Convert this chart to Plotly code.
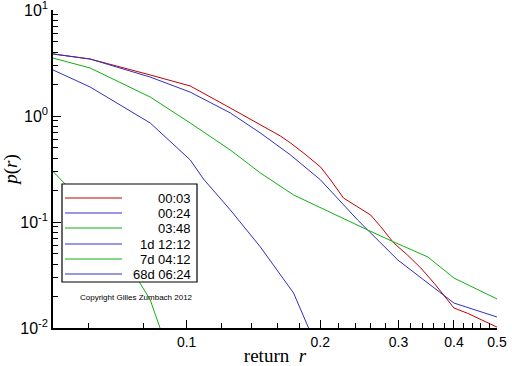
import plotly.graph_objects as go

# ---- data ----
labels = ["00:03", "00:24", "03:48", "1d 12:12", "7d 04:12", "68d 06:24"]
colors = ["#c00000", "#3030c0", "#10b010", "#3030c0", "#10b010", "#3030c0"]

x_0003 = [0.05, 0.0606, 0.0828, 0.1019, 0.1254, 0.1466, 0.1626, 0.1714, 0.1837, 0.2003, 0.2110,
          0.2257, 0.2424, 0.2597, 0.2736, 0.2927, 0.3142, 0.3368, 0.3611, 0.3767, 0.40, 0.4294, 0.50]
y_0003 = [3.85, 3.45, 2.44, 1.92, 1.19, 0.822, 0.648, 0.556, 0.445, 0.330, 0.249,
          0.168, 0.1395, 0.1164, 0.0903, 0.0634, 0.0489, 0.0368, 0.0264, 0.0212, 0.01545, 0.01375, 0.0102]

x_0024 = [0.05, 0.0606, 0.0828, 0.1019, 0.1254, 0.1466, 0.1714, 0.2003, 0.2427, 0.2990, 0.342, 0.40, 0.50]
y_0024 = [3.85, 3.45, 2.33, 1.68, 1.07, 0.691, 0.429, 0.249, 0.1045, 0.0438, 0.0284, 0.0172, 0.0127]

x_0348 = [0.05, 0.0606, 0.0828, 0.1019, 0.1254, 0.1466, 0.1741, 0.2003, 0.2557, 0.2927, 0.3493, 0.40, 0.50]
y_0348 = [3.52, 2.84, 1.51, 0.859, 0.478, 0.290, 0.180, 0.1355, 0.0841, 0.0648, 0.0468, 0.0296, 0.0188]

x_1d = [0.05, 0.0606, 0.0828, 0.1019, 0.1091, 0.1254, 0.1466, 0.1741, 0.1882]
y_1d = [2.72, 1.88, 0.859, 0.385, 0.2545, 0.130, 0.0581, 0.0214, 0.0100]

x_7d = [0.05, 0.0615, 0.0683, 0.0758, 0.0828, 0.0871]
y_7d = [0.30, 0.1216, 0.0648, 0.0337, 0.0184, 0.0100]

x_68d = []
y_68d = []

xs = [x_0003, x_0024, x_0348, x_1d, x_7d, x_68d]
ys = [y_0003, y_0024, y_0348, y_1d, y_7d, y_68d]

x_major = [0.1, 0.2, 0.3, 0.4, 0.5]
x_major_text = ["0.1", "0.2", "0.3", "0.4", "0.5"]
x_minor = [0.06, 0.08, 0.12, 0.14, 0.16, 0.18, 0.22, 0.24, 0.26, 0.28,
           0.32, 0.34, 0.36, 0.38, 0.42, 0.44, 0.46, 0.48]
y_major = [0.01, 0.1, 1, 10]
y_major_text = ["10<sup>-2</sup>", "10<sup>-1</sup>", "10<sup>0</sup>", "10<sup>1</sup>"]
y_minor = [m * d for d in (0.01, 0.1, 1) for m in range(2, 10)]

fig = go.Figure()
for xv, yv, lab, col in zip(xs, ys, labels, colors):
    fig.add_trace(go.Scatter(x=xv, y=yv, mode="lines", name=lab,
                             line=dict(color=col, width=1), showlegend=False))

W, H = 512, 366
L, R, T, B = 53, 497, 10, 328   # plot area in window pixels
def px(x):
    return (x - L) / (R - L)
def py(y):
    return (B - y) / (B - T)

shapes = [dict(type="rect", xref="paper", yref="paper", x0=px(62), x1=px(197),
               y0=py(282), y1=py(184), line=dict(color="black", width=1.2),
               fillcolor="white", layer="above")]
annotations = []
row_y = [198, 213, 228, 244, 259, 274]
for lab, col, ry in zip(labels, colors, row_y):
    shapes.append(dict(type="line", xref="paper", yref="paper", x0=px(65), x1=px(122),
                       y0=py(ry), y1=py(ry), line=dict(color=col, width=1), layer="above"))
    annotations.append(dict(xref="paper", yref="paper", x=px(193), y=py(ry), text=lab,
                            showarrow=False, xanchor="right", yanchor="middle",
                            font=dict(family="Liberation Sans", size=13, color="black")))
annotations.append(dict(xref="paper", yref="paper", x=px(78), y=py(297),
                        text="Copyright Gilles Zumbach 2012", showarrow=False,
                        xanchor="left", yanchor="middle",
                        font=dict(family="Liberation Sans", size=8, color="black")))

fig.update_layout(
    width=W, height=H,
    margin=dict(l=L, r=W - R, t=T, b=H - B, autoexpand=False),
    paper_bgcolor="white", plot_bgcolor="white",
    shapes=shapes, annotations=annotations,
    showlegend=False,
)
fig.update_xaxes(type="log", range=[-1.30103, -0.30100], automargin=False,
                 ticklabeloverflow="allow",
                 tickmode="array", tickvals=x_major, ticktext=x_major_text,
                 ticks="inside", ticklen=8, tickcolor="black", tickwidth=1,
                 minor=dict(tickmode="array", tickvals=x_minor, ticks="inside", ticklen=5,
                            tickcolor="black", tickwidth=1, showgrid=False),
                 showline=True, linecolor="black", linewidth=1.5, showgrid=False, zeroline=False,
                 tickfont=dict(family="Liberation Sans", size=14, color="black"),
                 title=dict(text="return  <i>r</i>", standoff=4,
                            font=dict(family="Liberation Serif", size=19, color="black")))
fig.update_yaxes(type="log", range=[-2.0, 1.0003], automargin=False,
                 ticklabeloverflow="allow",
                 tickmode="array", tickvals=y_major, ticktext=y_major_text,
                 ticks="inside", ticklen=8, tickcolor="black", tickwidth=1,
                 minor=dict(tickmode="array", tickvals=y_minor, ticks="inside", ticklen=5,
                            tickcolor="black", tickwidth=1, showgrid=False),
                 showline=True, linecolor="black", linewidth=1.5, showgrid=False, zeroline=False,
                 tickfont=dict(family="Liberation Sans", size=16, color="black"),
                 title=dict(text="<i>p</i>(<i>r</i>)", standoff=8,
                            font=dict(family="Liberation Serif", size=19, color="black")))

# remove the page's default 8px body margin so the figure fills the window exactly
fig.write_html("out.html",
               config={"displayModeBar": False},
               post_script="document.body.style.margin='0';document.body.style.overflow='hidden';")
